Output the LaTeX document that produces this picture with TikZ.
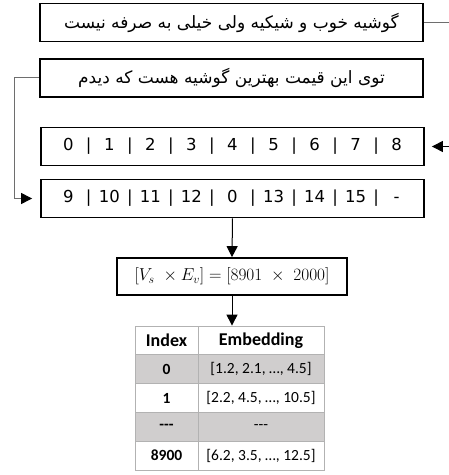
\documentclass[tikz,border=0pt]{standalone}
\usepackage{fontspec}
\usepackage{amsmath}
\usetikzlibrary{arrows.meta}
\TeXXeTstate=1
\newfontfamily\farsi[Script=Arabic]{DejaVu Sans}
\newfontfamily\verd{DejaVu Sans}
\newfontfamily\calib{Carlito}
\definecolor{rowgray}{HTML}{D0CECE}
\definecolor{linkgray}{HTML}{6E6E6E}
\newcommand{\tc}[1]{\makebox[35.5pt]{#1}}
\newcommand{\dashes}{-\kern0pt-\kern0pt-}

\begin{document}
\begin{tikzpicture}[x=1pt,y=1pt,
  textbox/.style={draw=black, line width=1.8pt, minimum width=383pt, minimum height=38pt, inner sep=0pt},
  tokbox/.style={textbox, font=\verd\fontsize{16.5}{19}\selectfont},
  link/.style={draw=linkgray, line width=1pt},
  flow/.style={-{Triangle[length=11pt,width=11pt,black]}, line width=1pt},
  cell/.style={draw=gray!60, line width=0.8pt, inner sep=0pt, minimum height=28.8pt, font=\calib\fontsize{15.5}{18}\selectfont}]
  \useasboundingbox (0,0) rectangle (449,475);
  % the two reviews
  \node[textbox, font=\farsi\fontsize{17}{20}\selectfont] (s1) at (231.5,452.5) {\beginR گوشیه خوب و شیکیه ولی خیلی به صرفه نیست\endR};
  \node[textbox, font=\farsi\fontsize{17}{20}\selectfont] (s2) at (231.5,397) {\beginR توی این قیمت بهترین گوشیه هست که دیدم\endR};
  % token ids
  \node[tokbox] (t1) at (232.5,328.5) {\tc{0}|\tc{1}|\tc{2}|\tc{3}|\tc{4}|\tc{5}|\tc{6}|\tc{7}|\tc{8}};
  \node[tokbox] (t2) at (232.5,276.5) {\tc{9}|\tc{10}|\tc{11}|\tc{12}|\tc{0}|\tc{13}|\tc{14}|\tc{15}|\tc{-}};
  \node[textbox, minimum width=230pt, minimum height=37pt, font=\fontsize{16.5}{19}\selectfont] (dim) at (232,198.5) {$[V_s\ \times E_v] = [8901\ \times\ 2000]$};
  % embedding table
  \node[cell, minimum width=63pt, font=\calib\bfseries\fontsize{18}{21}\selectfont] (hidx) at (166.5,134.6) {Index};
  \node[cell, minimum width=126pt, font=\calib\bfseries\fontsize{18}{21}\selectfont] (hemb) at (261,134.6) {Embedding};
  \foreach \k/\i/\e/\f in {1/0/{[1.2, 2.1, …, 4.5]}/rowgray, 2/1/{[2.2, 4.5, …, 10.5]}/white, 3/\dashes/\dashes/rowgray, 4/8900/{[6.2, 3.5, …, 12.5]}/white} {
    \node[cell, fill=\f, minimum width=63pt, font=\calib\bfseries\fontsize{15.5}{18}\selectfont] (idx\k) at (166.5,{134.6-28.8*\k}) {\i};
    \node[cell, fill=\f, minimum width=126pt] (emb\k) at (261,{134.6-28.8*\k}) {\e};
  }
  % connectors
  \coordinate (s1end) at (449,452.5);
  \coordinate (s2bend) at (14,397);
  \coordinate (t1feed) at (449,328.5);
  \draw[link] (s1.east) -- (s1end);
  \draw[link, flow, shorten >=8pt] (s2.west) -- (s2bend) |- (t2.west);
  \draw[flow, shorten >=7pt] (t1feed) -- (t1.east);
  \draw[flow] (t2.south) -- (dim.north);
  \draw[flow] (dim.south) -- (dim.south |- hemb.north);
\end{tikzpicture}
\end{document}
